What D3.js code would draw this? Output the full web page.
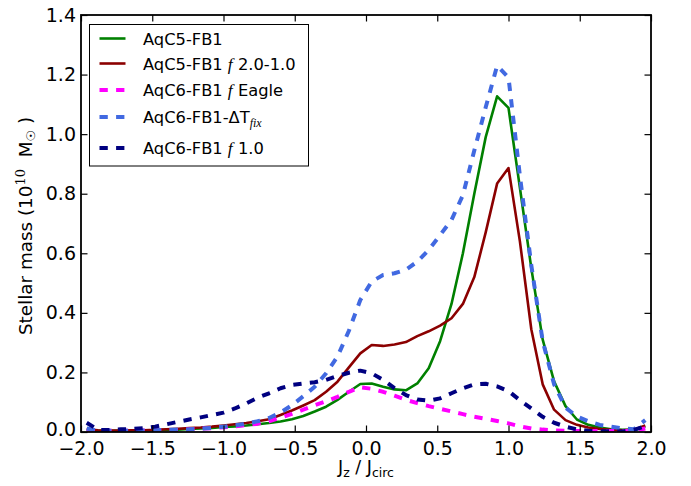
<!DOCTYPE html>
<html>
<head>
<meta charset="utf-8">
<script src="https://cdn.jsdelivr.net/npm/d3@7"></script>
<style>
  html, body { margin: 0; padding: 0; background: #fff; }
  svg { display: block; font-family: "DejaVu Sans", sans-serif; }
</style>
</head>
<body>
<svg id="chart" width="691" height="486"></svg>
<script>
// ---- data ----
const jz = [-1.96,-1.88,-1.80,-1.72,-1.64,-1.56,-1.48,-1.40,-1.32,-1.24,
            -1.16,-1.08,-1.00,-0.92,-0.84,-0.76,-0.68,-0.60,-0.52,-0.44,
            -0.36,-0.28,-0.20,-0.12,-0.04,0.04,0.12,0.20,0.28,0.36,
            0.44,0.52,0.60,0.68,0.76,0.84,0.92,1.00,1.08,1.16,
            1.24,1.32,1.40,1.48,1.56,1.64,1.72,1.80,1.88,1.96];

const aqC5 = [0.006,0.004,0.004,0.004,0.005,0.005,0.006,0.007,0.008,0.010,
              0.012,0.014,0.017,0.019,0.022,0.026,0.030,0.035,0.043,0.054,
              0.069,0.085,0.108,0.135,0.161,0.163,0.152,0.143,0.140,0.163,
              0.214,0.305,0.430,0.600,0.800,0.990,1.127,1.088,0.820,0.550,
              0.310,0.170,0.087,0.042,0.024,0.015,0.009,0.007,0.007,0.018];

const aqC5f2 = [0.009,0.006,0.005,0.005,0.006,0.006,0.007,0.009,0.011,0.013,
                0.015,0.018,0.022,0.026,0.030,0.036,0.043,0.057,0.072,0.089,
                0.107,0.135,0.169,0.217,0.264,0.292,0.289,0.294,0.302,0.322,
                0.338,0.357,0.382,0.430,0.520,0.670,0.834,0.886,0.640,0.345,
                0.160,0.075,0.040,0.024,0.015,0.010,0.007,0.006,0.008,0.022];

const aqC6eagle = [0.008,0.004,0.004,0.004,0.004,0.005,0.005,0.006,0.007,0.009,
                   0.011,0.013,0.016,0.019,0.023,0.028,0.036,0.048,0.061,0.075,
                   0.090,0.103,0.118,0.135,0.150,0.145,0.135,0.122,0.108,0.097,
                   0.087,0.078,0.069,0.060,0.051,0.044,0.037,0.029,0.019,0.012,
                   0.008,0.005,0.004,0.003,0.003,0.003,0.003,0.003,0.004,0.012];

const aqC6dT = [0.012,0.004,0.004,0.004,0.004,0.005,0.006,0.007,0.008,0.009,
                0.011,0.014,0.018,0.022,0.028,0.036,0.047,0.065,0.090,0.120,
                0.152,0.197,0.253,0.340,0.443,0.505,0.527,0.533,0.545,0.572,
                0.611,0.661,0.712,0.795,0.945,1.090,1.230,1.190,0.860,0.560,
                0.305,0.160,0.082,0.052,0.036,0.024,0.018,0.012,0.009,0.040];

const aqC6f1 = [0.031,0.007,0.007,0.009,0.010,0.013,0.018,0.026,0.034,0.042,
                0.049,0.057,0.065,0.079,0.096,0.115,0.130,0.147,0.158,0.163,
                0.167,0.175,0.188,0.199,0.206,0.197,0.175,0.147,0.124,0.109,
                0.105,0.113,0.130,0.147,0.160,0.162,0.153,0.137,0.107,0.079,
                0.051,0.031,0.018,0.009,0.004,0.003,0.002,0.002,0.007,0.020];

const xTicks = [-2.0,-1.5,-1.0,-0.5,0.0,0.5,1.0,1.5,2.0];
const yTicks = [0.0,0.2,0.4,0.6,0.8,1.0,1.2,1.4];

const seriesNames = ["AqC5-FB1","AqC5-FB1 f 2.0-1.0","AqC6-FB1 f Eagle","AqC6-FB1-ΔT fix","AqC6-FB1 f 1.0"];
const seriesColors = ["#008000","#8b0000","#ff00ff","#4169e1","#000080"];
const seriesDashed = [false,false,true,true,true];
const seriesValues = [aqC5, aqC5f2, aqC6eagle, aqC6dT, aqC6f1];

// ---- layout ----
const svg = d3.select("#chart");
const L = 81, R = 651, T = 15, B = 432;
const x = d3.scaleLinear().domain([-2, 2]).range([L, R]);
const y = d3.scaleLinear().domain([0, 1.4]).range([B, T]);

svg.append("defs").append("clipPath").attr("id","clip")
  .append("rect").attr("x",L).attr("y",T).attr("width",R-L).attr("height",B-T);

const line = d3.line().x((d,i)=>x(jz[i])).y(d=>y(d));

const lines = svg.append("g").attr("clip-path","url(#clip)");
seriesValues.forEach((vals, s) => {
  lines.append("path")
    .attr("d", line(vals))
    .attr("fill","none")
    .attr("stroke", seriesColors[s])
    .attr("stroke-width", seriesDashed[s] ? 4 : 2.6)
    .attr("stroke-dasharray", seriesDashed[s] ? "8.3,8.3" : null)
    .attr("stroke-linejoin","round");
});

// ---- axes ----
const fmt = d3.format(".1f");
const tickLen = 6.5;
const tickFont = "19px";
const ax = svg.append("g").attr("transform",`translate(0,${B})`)
  .call(d3.axisBottom(x).tickValues(xTicks).tickFormat(fmt).tickSize(-tickLen).tickPadding(9.5));
const axTop = svg.append("g").attr("transform",`translate(0,${T})`)
  .call(d3.axisTop(x).tickValues(xTicks).tickFormat("").tickSize(-tickLen));
const ay = svg.append("g").attr("transform",`translate(${L},0)`)
  .call(d3.axisLeft(y).tickValues(yTicks).tickFormat(fmt).tickSize(-tickLen).tickPadding(5));
const ayR = svg.append("g").attr("transform",`translate(${R},0)`)
  .call(d3.axisRight(y).tickValues(yTicks).tickFormat("").tickSize(-tickLen));

[ax, axTop, ay, ayR].forEach(g => {
  g.select(".domain").remove();
  g.selectAll(".tick line").attr("stroke","#000").attr("stroke-width",1.2);
  g.selectAll(".tick text").attr("fill","#000")
    .style("font-family","'DejaVu Sans', sans-serif").style("font-size",tickFont);
});
// nudge the lowest y label up slightly so it does not collide with the x labels
ay.selectAll(".tick").filter(d => d === 0).select("text").attr("dy","0.2em");

svg.append("rect").attr("x",L).attr("y",T).attr("width",R-L).attr("height",B-T)
  .attr("fill","none").attr("stroke","#000").attr("stroke-width",1.8);

// ---- axis labels ----
const xl = svg.append("text").attr("x", x(0)).attr("y", 473)
  .attr("text-anchor","middle").style("font-size","17.5px").attr("fill","#000");
xl.append("tspan").text("J");
xl.append("tspan").text("z").attr("font-size","12.5px").attr("dy","4");
xl.append("tspan").text(" / J").attr("dy","-4");
xl.append("tspan").text("circ").attr("font-size","12.5px").attr("dy","4");

const yl = svg.append("text")
  .attr("transform",`translate(32,226) scale(1,1.08) rotate(-90)`)
  .attr("text-anchor","middle").style("font-size","17px").attr("fill","#000");
yl.append("tspan").text("Stellar mass (10");
yl.append("tspan").text("10").attr("font-size","12px").attr("dy","-7")
  .style("font-family","'DejaVu Serif', serif");
yl.append("tspan").text("\u00a0\u00a0M").attr("dy","7");
yl.append("tspan").text("☉").attr("font-size","12px").attr("dy","3");
yl.append("tspan").text("\u00a0)").attr("dy","-3");

// ---- legend ----
const lg = svg.append("g");
lg.append("rect").attr("x",89.5).attr("y",24.5).attr("width",219).attr("height",141.5)
  .attr("fill","#fff").attr("stroke","#000").attr("stroke-width",1);
const rowY = [38.5, 63.5, 90, 117, 148];
const italicF = "'Liberation Serif', serif";
seriesNames.forEach((name, s) => {
  const yy = rowY[s];
  lg.append("line").attr("x1",99.5).attr("x2",125.5).attr("y1",yy).attr("y2",yy)
    .attr("stroke", seriesColors[s])
    .attr("stroke-width", seriesDashed[s] ? 4 : 2.6)
    .attr("stroke-dasharray", seriesDashed[s] ? "8.3,8.3" : null);
  const t = lg.append("text").attr("x",143).attr("y",yy+6)
    .style("font-size","16.3px").attr("fill","#000");
  if (s === 0) {
    t.append("tspan").text("AqC5-FB1");
  } else if (s === 1) {
    t.append("tspan").text("AqC5-FB1 ");
    t.append("tspan").text("f").style("font-family",italicF).style("font-style","italic").attr("font-size","17.5px");
    t.append("tspan").text(" 2.0-1.0");
  } else if (s === 2) {
    t.append("tspan").text("AqC6-FB1 ");
    t.append("tspan").text("f").style("font-family",italicF).style("font-style","italic").attr("font-size","17.5px");
    t.append("tspan").text(" Eagle");
  } else if (s === 3) {
    t.append("tspan").text("AqC6-FB1-ΔT");
    t.append("tspan").text("fix").style("font-family",italicF).style("font-style","italic")
      .attr("font-size","12px").attr("dy","4");
  } else {
    t.append("tspan").text("AqC6-FB1 ");
    t.append("tspan").text("f").style("font-family",italicF).style("font-style","italic").attr("font-size","17.5px");
    t.append("tspan").text(" 1.0");
  }
});
</script>
</body>
</html>
